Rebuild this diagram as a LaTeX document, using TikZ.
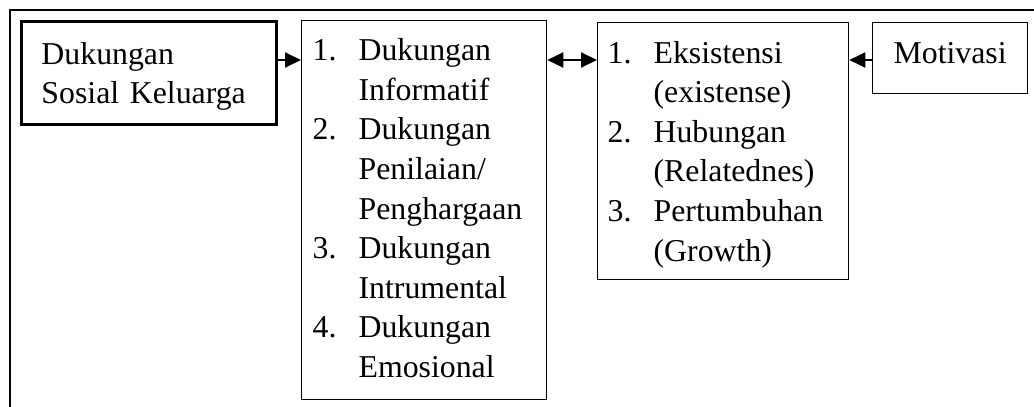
\documentclass[tikz,border=0pt]{standalone}
\usepackage{fontspec}
\setmainfont{Liberation Serif}
\usetikzlibrary{arrows.meta}

\tikzset{
  box/.style={draw, line width=1.3pt, anchor=north west, inner xsep=0pt, inner ysep=0pt,
    align=left, font=\fontsize{31.8}{39.6}\selectfont},
  arr/.style={line width=2pt, -{Triangle[length=16pt,width=15pt]}}
}

\begin{document}
\begin{tikzpicture}[x=1pt,y=-1pt]
\useasboundingbox (0,0) rectangle (1034,407);
% outer frame, cut off at right and bottom
\draw[line width=1.8pt] (10,420) -- (10,10) -- (1045,10);
\node[box, line width=3pt, minimum width=255pt, minimum height=103pt, text width=215pt,
  inner xsep=20pt] (sosial) at (20,20)
  {\raisebox{-3pt}[\height][\depth]{\begin{tabular}{@{}l@{}}Dukungan\\Sosial Keluarga\end{tabular}}};
\node[box, minimum width=245pt, minimum height=379pt, text width=223pt, inner xsep=11pt]
  (jenis) at (301,20)
  {\raisebox{-1pt}[\height][\depth]{\begin{tabular}{@{}p{46pt}@{}l@{}}
  1. & Dukungan\\ & Informatif\\
  2. & Dukungan\\ & Penilaian/\\ & Penghargaan\\
  3. & Dukungan\\ & Intrumental\\
  4. & Dukungan\\ & Emosional
  \end{tabular}}};
\node[box, minimum width=251pt, minimum height=257pt, text width=231pt, inner xsep=10pt]
  (erg) at (597,22)
  {\raisebox{-3pt}[\height][\depth]{\begin{tabular}{@{}p{46pt}@{}l@{}}
  1. & Eksistensi\\ & (existense)\\
  2. & Hubungan\\ & (Relatednes)\\
  3. & Pertumbuhan\\ & (Growth)
  \end{tabular}}};
\node[box, minimum width=155pt, minimum height=71pt, align=center]
  (motivasi) at (872,22)
  {\raisebox{3pt}[\height][\depth]{\begin{tabular}{@{}l@{}}Motivasi\end{tabular}}};
\coordinate (lvl) at (0,60);
\draw[arr] (sosial.east |- lvl) -- (jenis.west |- lvl);
\draw[arr, {Triangle[length=16pt,width=15pt]}-{Triangle[length=16pt,width=15pt]}]
  (jenis.east |- lvl) -- (erg.west |- lvl);
\draw[arr] (motivasi.west |- lvl) -- (erg.east |- lvl);
\end{tikzpicture}
\end{document}
